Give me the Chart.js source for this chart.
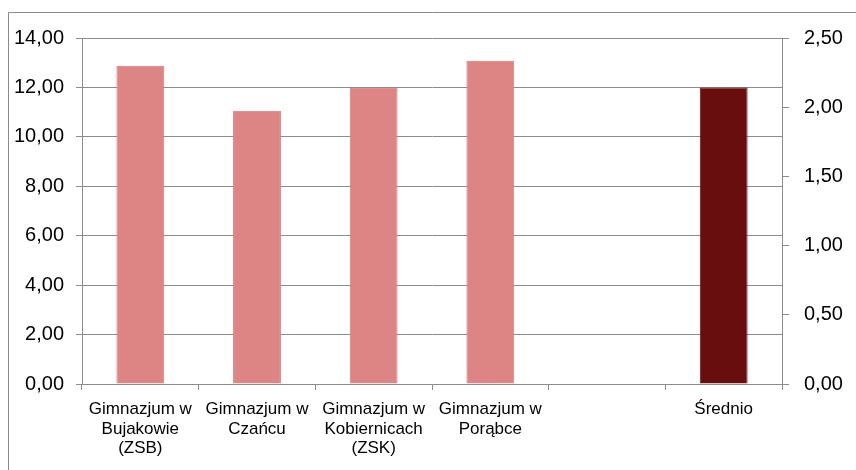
<!DOCTYPE html>
<html>
<head>
<meta charset="utf-8">
<script src="https://cdn.jsdelivr.net/npm/chart.js@4/dist/chart.umd.min.js"></script>
<style>
  html, body { margin: 0; padding: 0; background: #fff; }
  #wrap { width: 856px; height: 470px; position: relative; }
</style>
</head>
<body>
<div id="wrap"><canvas id="wykres"></canvas></div>
<script>
// dane wykresu
const kategorie = [
    ['Gimnazjum w', 'Bujakowie', '(ZSB)'],
    ['Gimnazjum w', 'Czańcu'],
    ['Gimnazjum w', 'Kobiernicach', '(ZSK)'],
    ['Gimnazjum w', 'Porąbce'],
    '',
    'Średnio'
];
const wartosci = [12.88, 11.06, 11.99, 13.08, null, 12.0];
const kolory = ['#DC8584', '#DC8584', '#DC8584', '#DC8584', '#DC8584', '#680E0F'];
const obramowania = ['#D67878', '#D67878', '#D67878', '#D67878', '#D67878', '#680E0F'];

const formatuj = v => Number(v).toFixed(2).replace('.', ',');

// ramka wokol wykresu (lewa i gorna krawedz)
const ramka = {
    id: 'ramka',
    beforeDraw(chart) {
        const ctx = chart.ctx;
        ctx.save();
        ctx.strokeStyle = '#8a8a8a';
        ctx.lineWidth = 1;
        ctx.beginPath();
        ctx.moveTo(8.5, 470);
        ctx.lineTo(8.5, 12.5);
        ctx.lineTo(856, 12.5);
        ctx.stroke();
        ctx.restore();
    }
};

const szary = '#8c8c8c';

new Chart(document.getElementById('wykres').getContext('2d'), {
    type: 'bar',
    data: {
        labels: kategorie,
        datasets: [{
            data: wartosci,
            backgroundColor: kolory,
            borderColor: obramowania,
            borderWidth: 1,
            categoryPercentage: 1,
            barPercentage: 0.41
        }]
    },
    options: {
        responsive: true,
        maintainAspectRatio: false,
        animation: false,
        layout: { padding: { top: 38, left: 0, right: 0, bottom: 0 } },
        plugins: {
            legend: { display: false },
            tooltip: { enabled: false }
        },
        scales: {
            x: {
                grid: {
                    offset: true,
                    drawOnChartArea: false,
                    tickLength: 6,
                    color: szary
                },
                border: { color: szary },
                ticks: {
                    color: '#000',
                    padding: 10,
                    maxRotation: 0,
                    autoSkip: false,
                    font: { family: 'Liberation Sans', size: 17, lineHeight: 1.13 }
                },
                afterFit(s) { s.height = 86; }
            },
            y: {
                position: 'left',
                min: 0,
                max: 14,
                ticks: {
                    stepSize: 2,
                    color: '#000',
                    padding: 12,
                    callback: formatuj,
                    font: { family: 'Liberation Sans', size: 20 }
                },
                grid: { color: szary, tickLength: 6 },
                border: { color: szary },
                afterFit(s) { s.width = 82; }
            },
            y2: {
                position: 'right',
                min: 0,
                max: 2.5,
                ticks: {
                    stepSize: 0.5,
                    color: '#000',
                    padding: 15,
                    callback: formatuj,
                    font: { family: 'Liberation Sans', size: 20 }
                },
                grid: { drawOnChartArea: false, color: szary, tickLength: 7 },
                border: { color: szary },
                afterFit(s) { s.width = 74; }
            }
        }
    },
    plugins: [ramka]
});
</script>
</body>
</html>
